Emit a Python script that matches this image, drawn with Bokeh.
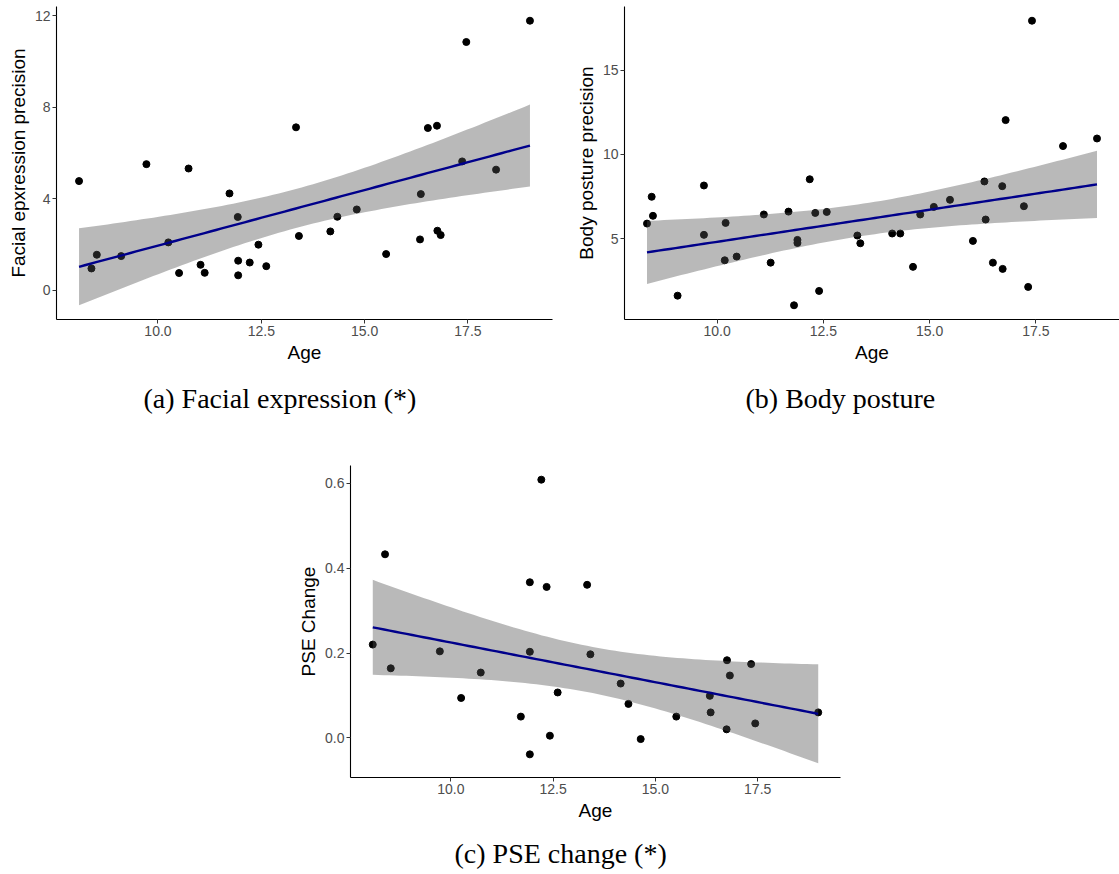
import numpy as np
from bokeh.plotting import figure
from bokeh.layouts import column, row
from bokeh.models import Range1d, FixedTicker, NumeralTickFormatter, Title
from bokeh.embed import file_html
from bokeh.resources import INLINE

# ---- data -------------------------------------------------------------
face_age = [8.09, 8.39, 8.52, 9.11, 9.72, 10.25, 10.51, 10.74, 11.03, 11.13,
            11.73, 11.93, 11.94, 11.94, 12.22, 12.43, 12.62, 13.34, 13.41, 14.17,
            14.34, 14.81, 15.52, 16.34, 16.36, 16.53, 16.75, 16.76, 16.84, 17.36,
            17.46, 18.18, 19.00]
face_prec = [4.78, 0.96, 1.56, 1.50, 5.52, 2.10, 0.76, 5.33, 1.12, 0.77,
             4.24, 3.21, 1.30, 0.66, 1.22, 2.00, 1.06, 7.13, 2.38, 2.58,
             3.22, 3.54, 1.59, 2.23, 4.21, 7.10, 7.20, 2.61, 2.42, 5.64,
             10.86, 5.28, 11.79]

body_age = [8.35, 8.46, 8.49, 9.07, 9.69, 9.69, 10.18, 10.20, 10.46, 11.10,
            11.26, 11.68, 11.81, 11.89, 11.89, 12.18, 12.31, 12.40, 12.58, 13.30,
            13.37, 14.12, 14.31, 14.61, 14.78, 15.10, 15.48, 16.02, 16.29, 16.32,
            16.49, 16.71, 16.72, 16.79, 17.22, 17.32, 17.41, 18.14, 18.94]
body_prec = [5.89, 7.48, 6.35, 1.61, 8.15, 5.22, 3.71, 5.93, 3.93, 6.43,
             3.57, 6.60, 1.04, 4.92, 4.74, 8.52, 6.52, 1.89, 6.58, 5.18,
             4.72, 5.30, 5.30, 3.32, 6.43, 6.88, 7.30, 4.86, 8.39, 6.13,
             3.57, 8.11, 3.20, 12.03, 6.92, 2.13, 17.93, 10.49, 10.94]

pse_age = [8.09, 8.39, 8.53, 9.73, 10.25, 10.73, 11.71, 11.93, 11.93, 11.93,
           12.21, 12.34, 12.42, 12.61, 13.33, 13.41, 14.15, 14.34, 14.64, 15.51,
           16.33, 16.35, 16.75, 16.74, 16.82, 17.34, 17.44, 18.98]
pse_change = [0.220, 0.433, 0.164, 0.204, 0.094, 0.154, 0.050, 0.367, 0.203, -0.039,
              0.609, 0.356, 0.005, 0.107, 0.361, 0.197, 0.128, 0.080, -0.003, 0.050,
              0.099, 0.060, 0.183, 0.020, 0.147, 0.174, 0.034, 0.060]

age_ticks = [10, 12.5, 15, 17.5]
face_ticks = [0, 4, 8, 12]
body_ticks = [5, 10, 15]
pse_ticks = [0.0, 0.2, 0.4, 0.6]

SANS = "Liberation Sans"
SERIF = "Liberation Serif"


def t975(df):
    """Two-sided 95% Student-t quantile (Cornish-Fisher expansion)."""
    z = 1.959964
    return (z + (z**3 + z) / (4 * df)
            + (5 * z**5 + 16 * z**3 + 3 * z) / (96 * df**2)
            + (3 * z**7 + 19 * z**5 + 17 * z**3 - 15 * z) / (384 * df**3))


def lm_band(x, y, n_grid=80):
    """Least-squares line with its 95% confidence band."""
    x = np.asarray(x, float)
    y = np.asarray(y, float)
    n = len(x)
    b1, b0 = np.polyfit(x, y, 1)
    resid = y - (b0 + b1 * x)
    s = np.sqrt(np.sum(resid**2) / (n - 2))
    xbar = x.mean()
    sxx = np.sum((x - xbar) ** 2)
    xs = np.linspace(x.min(), x.max(), n_grid)
    fit = b0 + b1 * xs
    se = s * np.sqrt(1.0 / n + (xs - xbar) ** 2 / sxx)
    t = t975(n - 2)
    return xs, fit, fit - t * se, fit + t * se


def panel(x, y, ylabel, yticks, yfmt, caption, frame_w, frame_h,
          b_left, b_right, b_top, b_bottom, cap_offset, cap_standoff):
    xs, fit, lo, hi = lm_band(x, y)
    xmin, xmax = min(x), max(x)
    xpad = 0.05 * (xmax - xmin)
    ymin = min(min(y), lo.min())
    ymax = max(max(y), hi.max())
    ypad = 0.05 * (ymax - ymin)

    p = figure(frame_width=frame_w, frame_height=frame_h,
               x_range=Range1d(xmin - xpad, xmax + xpad),
               y_range=Range1d(ymin - ypad, ymax + ypad),
               output_backend="svg", toolbar_location=None,
               min_border_left=b_left, min_border_right=b_right,
               min_border_top=b_top, min_border_bottom=b_bottom)
    p.outline_line_color = None
    p.grid.visible = False
    p.background_fill_color = "white"
    p.border_fill_color = "white"

    p.scatter(x, y, size=7, color="black")
    p.varea(x=xs, y1=lo, y2=hi, fill_color="#505050", fill_alpha=0.4)
    p.line(xs, fit, line_color="#00008B", line_width=2.4)

    p.xaxis.ticker = FixedTicker(ticks=age_ticks)
    p.xaxis.formatter = NumeralTickFormatter(format="0.0")
    p.yaxis.ticker = FixedTicker(ticks=yticks)
    p.yaxis.formatter = NumeralTickFormatter(format=yfmt)
    p.xaxis.axis_label = "Age"
    p.yaxis.axis_label = ylabel

    for ax in (p.xaxis[0], p.yaxis[0]):
        ax.axis_line_color = "black"
        ax.axis_line_width = 1.1
        ax.major_tick_line_color = "#333333"
        ax.major_tick_line_width = 1
        ax.major_tick_out = 4
        ax.major_tick_in = 0
        ax.minor_tick_line_color = None
        ax.major_label_text_color = "#4D4D4D"
        ax.major_label_text_font = SANS
        ax.major_label_text_font_size = "14px"
        ax.axis_label_text_font = SANS
        ax.axis_label_text_font_size = "19px"
        ax.axis_label_text_font_style = "normal"
        ax.axis_label_text_color = "black"
    p.xaxis.major_label_standoff = 2
    p.xaxis.axis_label_standoff = 3
    p.yaxis.major_label_standoff = 2
    p.yaxis.axis_label_standoff = 3

    # sub-figure caption, left-aligned with an offset so it sits centred
    # under the whole sub-figure rather than under the plot frame
    p.add_layout(Title(text=caption, align="left", offset=cap_offset,
                       standoff=cap_standoff, text_font=SERIF,
                       text_font_size="28px", text_font_style="normal",
                       text_color="black"), "below")
    return p


pa = panel(face_age, face_prec, "Facial epxression precision", face_ticks, "0",
           "(a) Facial expression (*)", 496, 313, 56, 8, 6, 121, 87, 30)
pb = panel(body_age, body_prec, "Body posture precision", body_ticks, "0",
           "(b) Body posture", 495, 313, 64, 0, 6, 121, 121, 30)
pc = panel(pse_age, pse_change, "PSE Change", pse_ticks, "0.0",
           "(c) PSE change (*)", 490, 312, 350, 279, 25, 97, 104, 25)

layout = column(row(pa, pb), pc)
open("out.html", "w").write(file_html(layout, INLINE))
